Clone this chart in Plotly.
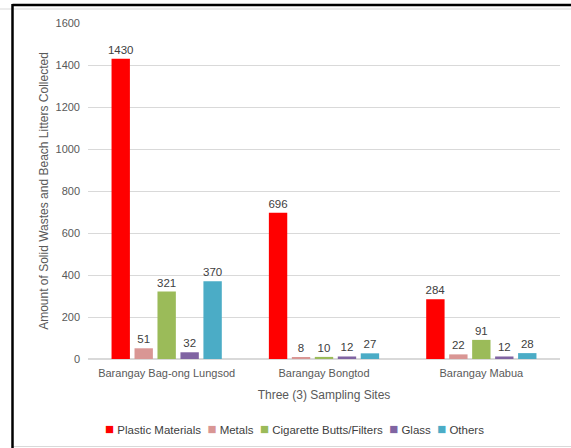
import plotly.graph_objects as go

sites = ["Barangay Bag-ong Lungsod", "Barangay Bongtod", "Barangay Mabua"]
series_names = ["Plastic Materials", "Metals", "Cigarette Butts/Filters", "Glass", "Others"]
plastic = [1430, 696, 284]
metals = [51, 8, 22]
cigarette = [321, 10, 91]
glass = [32, 12, 12]
others = [370, 27, 28]
colors = ["#FF0000", "#D99694", "#9BBB59", "#8064A2", "#4BACC6"]
y_ticks = [0, 200, 400, 600, 800, 1000, 1200, 1400, 1600]

FONT = "Liberation Sans"
fig = go.Figure()
for name, vals, col in zip(series_names, [plastic, metals, cigarette, glass, others], colors):
    fig.add_trace(go.Bar(
        x=sites, y=vals, name=name, marker=dict(color=col, line=dict(width=0)),
        text=[str(v) for v in vals], textposition="outside", constraintext="none",
        textfont=dict(family=FONT, size=11.5, color="#404040"),
        cliponaxis=False, showlegend=False,
    ))

W, H = 571, 448
L, R, T, B = 88, 11, 23, 89
pw, ph = W - L - R, H - T - B

def px(x):
    return (x - L) / pw

def py(y):
    return (H - B - y) / ph

shapes = [
    dict(type="line", xref="paper", yref="paper", x0=px(0), x1=px(W + 5), y0=py(9), y1=py(9),
         line=dict(color="#D9D9D9", width=1)),
    dict(type="line", xref="paper", yref="paper", x0=px(12), x1=px(W + 5), y0=py(446.5), y1=py(446.5),
         line=dict(color="#D9D9D9", width=1)),
    dict(type="line", xref="paper", yref="paper", x0=px(12.5), x1=px(W + 5), y0=py(5), y1=py(5),
         line=dict(color="#000000", width=2.5)),
    dict(type="line", xref="paper", yref="paper", x0=px(12.5), x1=px(12.5), y0=py(4), y1=py(H + 5),
         line=dict(color="#000000", width=2.5)),
]

# legend row built from the series names and colours
legend_text = "  ".join(
    f'<span style="color:{c};font-size:15px">■</span> {n}' for n, c in zip(series_names, colors)
)
annotations = [
    dict(text=legend_text, xref="paper", yref="paper", x=px(294), y=py(428),
         xanchor="center", yanchor="middle", showarrow=False,
         font=dict(family=FONT, size=11.5, color="#404040")),
]

fig.update_layout(
    width=W, height=H,
    margin=dict(l=L, r=R, t=T, b=B, autoexpand=False),
    paper_bgcolor="white", plot_bgcolor="white",
    barmode="group", bargap=0.27, bargroupgap=0.2,
    font=dict(family=FONT, size=11, color="#595959"),
    showlegend=False,
    xaxis=dict(
        showgrid=False, showline=True, linecolor="#D9D9D9", linewidth=1,
        ticks="", tickfont=dict(size=11, color="#595959"), automargin=False,
        ticklabelstandoff=4,
        title=dict(text="Three (3) Sampling Sites", font=dict(size=12, color="#595959"), standoff=12),
    ),
    yaxis=dict(
        range=[0, 1600], tickvals=y_ticks, showgrid=True, gridcolor="#D9D9D9", gridwidth=1,
        zeroline=True, zerolinecolor="#D9D9D9", showline=False, ticks="", automargin=False,
        tickfont=dict(size=11, color="#595959"), ticklabelstandoff=7,
        title=dict(text="Amount of Solid Wastes and Beach Litters Collected",
                   font=dict(size=12, color="#595959"), standoff=4),
    ),
    annotations=annotations,
    shapes=shapes,
)

fig.write_html("out.html")
